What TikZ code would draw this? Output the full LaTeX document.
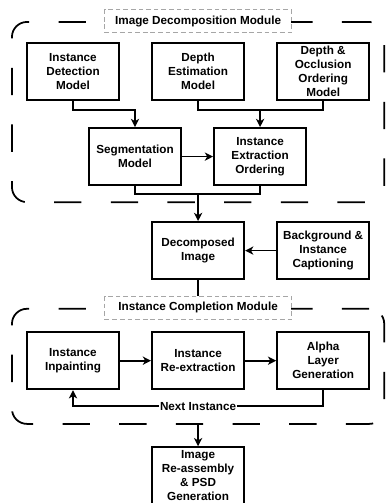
\documentclass[tikz,border=0pt]{standalone}
\usepackage{fontspec}
\setmainfont{Liberation Sans}
\usetikzlibrary{positioning, fit, arrows.meta}

\begin{document}
\begin{tikzpicture}[
    >={Stealth[length=7pt, width=7pt, inset=2pt]},
    stepbox/.style={
        rectangle,
        draw=black, line width=1.5pt,
        minimum width=2.77cm,
        minimum height=1.72cm,
        inner sep=1pt,
        align=center, font=\bfseries
    },
    modbox/.style={
        rectangle, rounded corners=0.45cm,
        draw=black, line width=1.5pt,
        dash pattern=on 0.82cm off 0.88cm,
        inner xsep=0.42cm
    },
    modlabel/.style={
        rectangle,
        draw=gray!70, fill=white, line width=0.8pt,
        dash pattern=on 4pt off 2.5pt,
        minimum width=5.6cm,
        minimum height=0.69cm,
        inner sep=1pt, font=\bfseries
    },
    link/.style={line width=1.4pt}
]

\useasboundingbox (-2.19,2.145) rectangle (9.42,-12.945);

% image decomposition
\node[stepbox] (det) at (0,0) {Instance\\Detection\\Model};
\node[stepbox, right=0.93cm of det] (dep) {Depth\\Estimation\\Model};
\node[stepbox, right=0.93cm of dep] (occ) {Depth \&\\Occlusion\\Ordering\\Model};
\node[stepbox, below=0.78cm of det, xshift=1.86cm] (seg) {Segmentation\\Model};
\node[stepbox, right=0.93cm of seg] (ieo) {Instance\\Extraction\\Ordering};

\node[modbox, fit=(det)(occ)(seg)(ieo), inner ysep=0.54cm, yshift=0.06cm] (dm) {};
\node[modlabel] (dml) at (dm.north) {Image Decomposition Module};

\draw[link, ->] (det.south) -- ++(0,-0.27) -| (seg.north);
\coordinate (dj) at ([yshift=-0.27cm]dep.south);
\draw[link] (dep.south) -- (dj) -| (occ.south);
\draw[link, ->] (dj -| ieo.north) -- (ieo.north);
\draw[link, ->] (seg) -- (ieo);

% decomposed image
\node[stepbox, below=3.6cm of dep] (di) {Decomposed\\Image};
\node[stepbox, right=0.93cm of di] (bic) {Background \&\\Instance\\Captioning};

\coordinate (sj) at ([yshift=-0.24cm]seg.south);
\draw[link] (seg.south) -- (sj) -| (ieo.south);
\draw[link, ->] (sj -| di.north) -- (di.north);
\draw[link, ->] (bic) -- (di);

% instance completion
\node[stepbox, below=1.53cm of di] (rex) {Instance\\Re-extraction};
\node[stepbox, left=0.93cm of rex] (inp) {Instance\\Inpainting};
\node[stepbox, right=0.93cm of rex] (alp) {Alpha\\Layer\\Generation};
\coordinate (nx) at ([yshift=-0.48cm]alp.south);

\node[modbox, fit=(inp)(alp)(nx), inner ysep=0.6cm, yshift=0.07cm] (cm) {};
\node[modlabel] (cml) at (cm.north) {Instance Completion Module};

\draw[link] (di.south) -- (cml.north);
\draw[link, ->] (inp) -- (rex);
\draw[link, ->] (rex) -- (alp);
\draw[link, ->] (alp.south) -- (nx) -| node[pos=0.25, fill=white, inner sep=1pt, font=\bfseries] (nxl) {Next Instance} (inp.south);

% re-assembly
\node[stepbox, below=1.68cm of rex] (ras) {Image\\Re-assembly\\\& PSD\\Generation};
\draw[link, ->] (cm.south -| ras.north) -- (ras.north);

\end{tikzpicture}
\end{document}
